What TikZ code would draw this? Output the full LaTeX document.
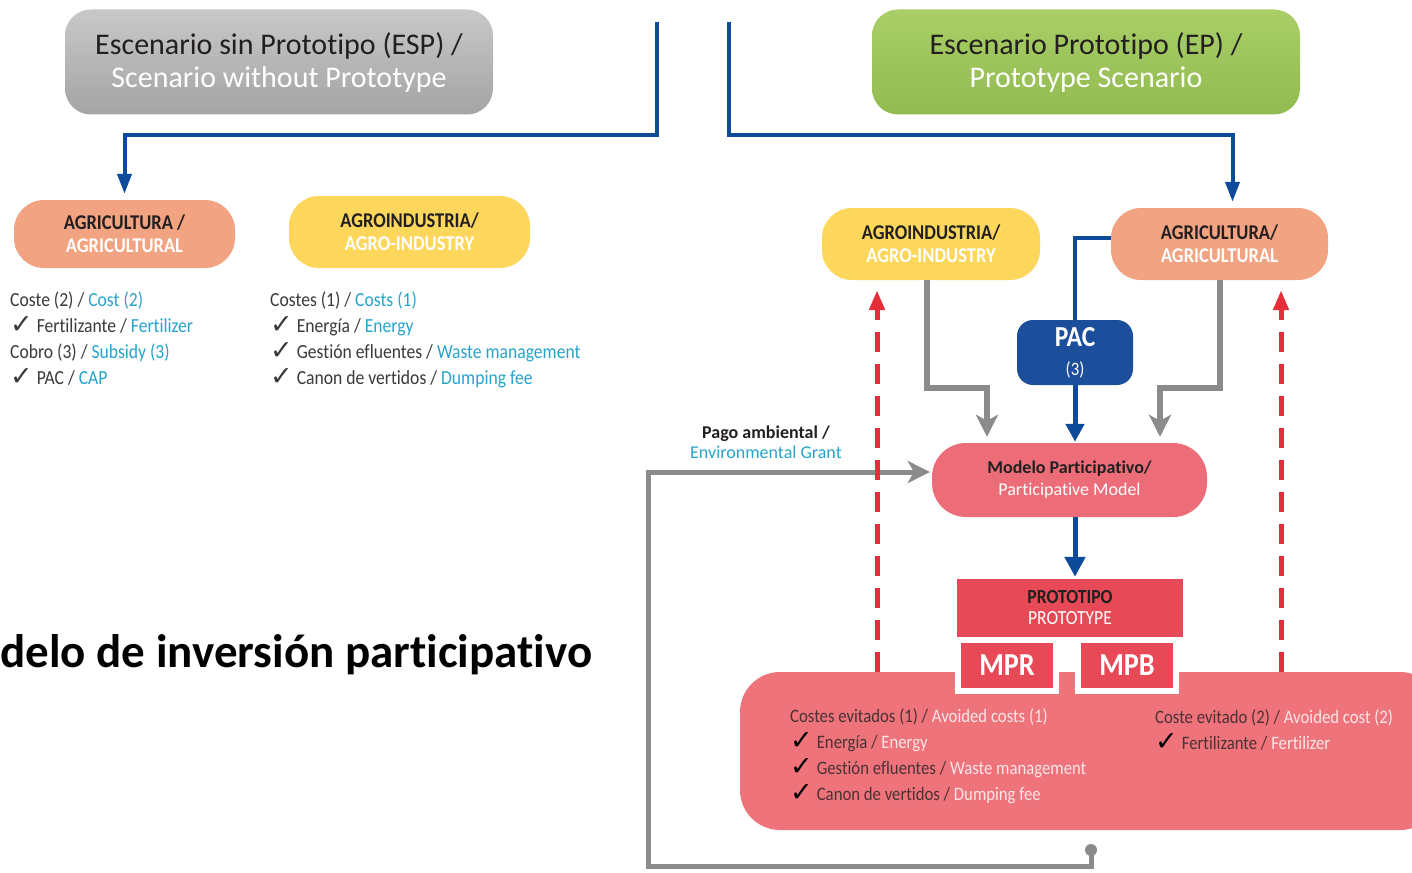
\documentclass[tikz,border=0pt]{standalone}
\usepackage{fontspec}
\setmainfont[Ligatures=NoCommon]{Carlito}
\newfontfamily\condfont[FakeStretch=0.88,Ligatures=NoCommon]{Carlito}
\newfontfamily\symfont{DejaVu Sans}
\usetikzlibrary{arrows.meta,positioning}

\definecolor{scengray1}{HTML}{C8C8C9}
\definecolor{scengray2}{HTML}{A4A4A5}
\definecolor{scengreen1}{HTML}{A9CE67}
\definecolor{scengreen2}{HTML}{92BB51}
\definecolor{agrisalmon}{HTML}{F2A381}
\definecolor{agroyellow}{HTML}{FDD75C}
\definecolor{pacblue}{HTML}{1B4E9B}
\definecolor{linkblue}{HTML}{0D4A9A}
\definecolor{arrowgray}{HTML}{8B8B8C}
\definecolor{dashred}{HTML}{E62D3A}
\definecolor{modelpink}{HTML}{EC6D77}
\definecolor{protored}{HTML}{E74A56}
\definecolor{savpink}{HTML}{EE737B}
\definecolor{txtdark}{HTML}{231F20}
\definecolor{listgray}{HTML}{3A3A3A}
\definecolor{txtcyan}{HTML}{27A4CB}
\definecolor{savdark}{HTML}{4A3234}
\definecolor{savlight}{HTML}{FDE6E8}

\newcommand{\chk}{{\symfont\bfseries\fontsize{27}{26}\selectfont\raisebox{-1pt}{✓}}\hspace{4pt}}

\begin{document}
\begin{tikzpicture}[
    x=1pt, y=-1pt,
    every node/.style = {inner sep=0pt},
    scenbox/.style = {rounded corners=26pt, minimum width=428pt, minimum height=105pt,
      align=center, font=\fontsize{30}{33}\selectfont},
    sectorbox/.style = {rounded corners=30pt, minimum height=70pt, align=center,
      font=\condfont\bfseries\fontsize{21}{23}\selectfont},
    listtext/.style = {anchor=north west, align=left, text=listgray,
      font=\condfont\fontsize{20}{26}\selectfont},
    savtext/.style = {anchor=north west, align=left, text=savdark,
      font=\condfont\fontsize{19}{26}\selectfont},
    mpbox/.style = {fill=protored, draw=white, line width=6pt, minimum width=98pt,
      minimum height=51pt, text=white, font=\condfont\bfseries\fontsize{32}{32}\selectfont},
    bluelink/.style = {draw=linkblue, line width=4pt, -{Triangle[length=20pt,width=14pt]}},
    graylink/.style = {draw=arrowgray, line width=6pt, -{Stealth[length=22pt,width=22pt,inset=6pt]}},
    redlink/.style = {draw=dashred, line width=5pt, dash pattern=on 20pt off 12pt,
      -{Triangle[length=20pt,width=15pt]}}
  ]
    %%+++++++++++++++++++++++++
    % Variables
    \pgfmathsetmacro{\yBar}{135}     % blue split bar
    \pgfmathsetmacro{\yElbow}{388}   % elbow of the gray arrows
    \pgfmathsetmacro{\xDashL}{877}
    \pgfmathsetmacro{\xDashR}{1281}
    \pgfmathsetmacro{\yLoop}{866}
    %%+++++++++++++++++++++++++
    \fill[white] (0,0) rectangle (1412,872);
    \clip (0,0) rectangle (1412,872);
    % Scenarios
    \node[scenbox, top color=scengray1, bottom color=scengray2] (esp) at (279,62)
      {{\color{txtdark}Escenario sin Prototipo (ESP) /}\\{\color{white}Scenario without Prototype}};
    \node[scenbox, top color=scengreen1, bottom color=scengreen2] (ep) at (1086,62)
      {{\color{txtdark}Escenario Prototipo (EP) /}\\{\color{white}Prototype Scenario}};
    % Sectors, ESP side
    \node[sectorbox, fill=agrisalmon, minimum width=221pt, minimum height=68pt] (lagri) at (124.5,234)
      {{\color{txtdark}AGRICULTURA /}\\{\color{white}AGRICULTURAL}};
    \node[sectorbox, fill=agroyellow, minimum width=241pt, minimum height=72pt] (lagro) at (409.5,232)
      {{\color{txtdark}AGROINDUSTRIA/}\\{\color{white}AGRO-INDUSTRY}};
    \node[listtext] (costagri) at (10,292)
      {Coste (2) / {\color{txtcyan}Cost (2)}\\
       \chk Fertilizante / {\color{txtcyan}Fertilizer}\\
       Cobro (3) / {\color{txtcyan}Subsidy (3)}\\
       \chk PAC / {\color{txtcyan}CAP}};
    \node[listtext] (costagro) at (270,292)
      {Costes (1) / {\color{txtcyan}Costs (1)}\\
       \chk Energía / {\color{txtcyan}Energy}\\
       \chk Gestión efluentes / {\color{txtcyan}Waste management}\\
       \chk Canon de vertidos / {\color{txtcyan}Dumping fee}};
    % Title (cut)
    \node[anchor=base west, font=\bfseries\fontsize{47}{50}\selectfont, text=black] (title) at (0,667)
      {delo de inversión participativo};
    % Sectors, EP side
    \node[sectorbox, fill=agroyellow, minimum width=218pt, minimum height=72pt] (ragro) at (931,244)
      {{\color{txtdark}AGROINDUSTRIA/}\\{\color{white}AGRO-INDUSTRY}};
    \node[sectorbox, fill=agrisalmon, minimum width=217pt, minimum height=72pt] (ragri) at (1219.5,244)
      {{\color{txtdark}AGRICULTURA/}\\{\color{white}AGRICULTURAL}};
    \node[fill=pacblue, rounded corners=16pt, minimum width=116pt, minimum height=65pt,
      align=center, text=white, font=\condfont\fontsize{19}{29}\selectfont] (pac) at (1075,352.5)
      {{\bfseries\fontsize{29}{29}\selectfont PAC}\\(3)};
    \node[fill=modelpink, rounded corners=34pt, minimum width=275pt, minimum height=74pt,
      align=center, font=\fontsize{18}{22}\selectfont] (model) at (1069.5,480)
      {{\bfseries\color{txtdark}Modelo Participativo/}\\{\color{white}Participative Model}};
    % Savings
    \node[fill=savpink, rounded corners=40pt, minimum width=700pt, minimum height=158pt] (saving) at (1090,751) {};
    \node[fill=protored, minimum width=226pt, minimum height=58pt, align=center,
      font=\condfont\fontsize{20}{21}\selectfont] (proto) at (1070,608)
      {{\bfseries\color{txtdark}PROTOTIPO}\\{\color{white}PROTOTYPE}};
    \node[mpbox] (mpr) at (1007,665.5) {MPR};
    \node[mpbox] (mpb) at (1127,665.5) {MPB};
    \node[savtext] (savagro) at (790,708)
      {Costes evitados (1) / {\color{savlight}Avoided costs (1)}\\
       {\color{black}\chk}Energía / {\color{savlight}Energy}\\
       {\color{black}\chk}Gestión efluentes / {\color{savlight}Waste management}\\
       {\color{black}\chk}Canon de vertidos / {\color{savlight}Dumping fee}};
    \node[savtext] (savagri) at (1155,709)
      {Coste evitado (2) / {\color{savlight}Avoided cost (2)}\\
       {\color{black}\chk}Fertilizante / {\color{savlight}Fertilizer}};
    % Blue split
    \coordinate (splitL) at (657,22);
    \coordinate (splitR) at (729,22);
    \draw[bluelink, shorten >=6pt] (splitL) -- (splitL |- 0,\yBar) -| (lagri.north);
    \draw[bluelink, shorten >=6pt] (splitR) -- (splitR |- 0,\yBar) -| ([xshift=13pt]ragri.north);
    \draw[draw=linkblue, line width=4pt] ([yshift=6pt]ragri.west) -| (pac.north);
    \draw[bluelink, line width=5pt, -{Triangle[length=18pt,width=18pt]}, shorten >=1pt] (pac.south) -- (pac.south |- model.north);
    \draw[bluelink, line width=5pt, -{Triangle[length=20pt,width=20pt]}, shorten >=2pt] (model.south -| pac.south) -- (proto.north -| pac.south);
    % Gray inputs
    \draw[graylink, shorten >=6pt] ([xshift=-4pt]ragro.south) -- ([xshift=-4pt]ragro.south |- 0,\yElbow)
      -| ([xshift=-82.5pt]model.north);
    \draw[graylink, shorten >=6pt] (ragri.south) -- (ragri.south |- 0,\yElbow) -| ([xshift=90.5pt]model.north);
    % Environmental grant loop
    \coordinate (dot) at (1091,850);
    \coordinate (loopcorner) at (648,\yLoop);
    \draw[graylink, line width=5pt, shorten >=2pt] (dot) -- (dot |- loopcorner) -- (loopcorner)
      |- ([yshift=8pt]model.west);
    \fill[arrowgray] (dot) circle (6pt);
    \node[align=center, font=\fontsize{18}{20}\selectfont] (pago) at (766,442)
      {{\bfseries\color{txtdark}Pago ambiental /}\\{\color{txtcyan}Environmental Grant}};
    % Red feedback
    \draw[redlink, shorten >=10pt] (\xDashL,0 |- saving.north) -- (\xDashL,0 |- ragro.south);
    \draw[redlink, shorten >=10pt] (\xDashR,0 |- saving.north) -- (\xDashR,0 |- ragri.south);
\end{tikzpicture}
\end{document}
